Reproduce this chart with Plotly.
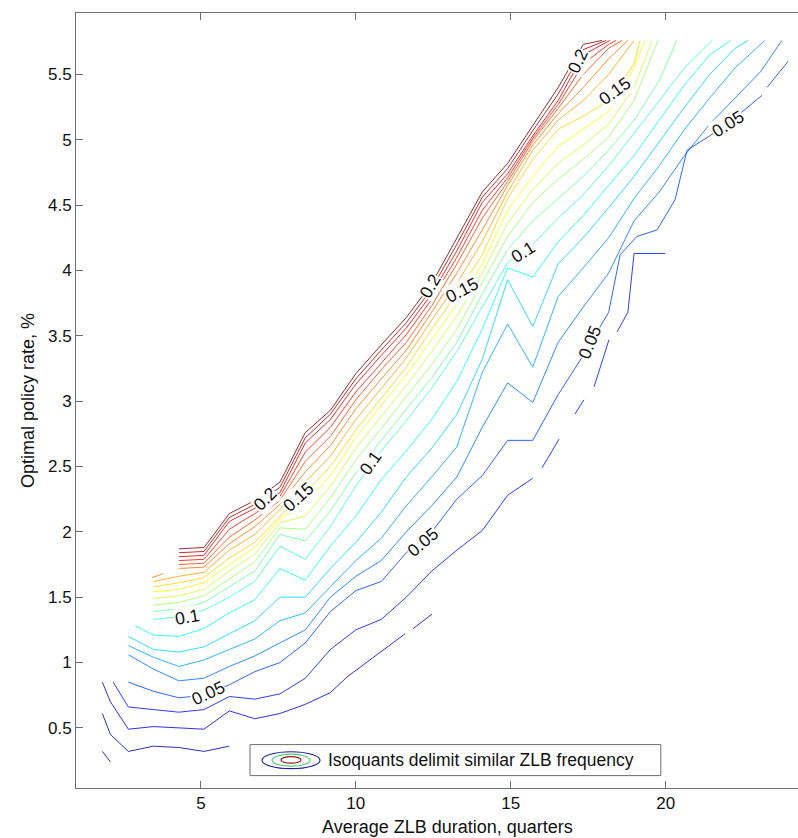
import plotly.graph_objects as go

# grid columns of the underlying data (Average ZLB duration, quarters)
XK = [1.84, 2.66, 3.47, 4.29, 5.10, 5.92, 6.74, 7.55, 8.37, 9.18, 10.00, 10.82, 11.63, 12.45,
      13.26, 14.08, 14.90, 15.71, 16.53, 17.34, 18.16, 18.98, 19.79, 20.61, 21.42, 22.24, 23.06, 23.87]

LEVELS = [0.01, 0.02, 0.03, 0.04, 0.05, 0.06, 0.07, 0.08, 0.09, 0.10, 0.11,
          0.12, 0.13, 0.14, 0.15, 0.16, 0.17, 0.18, 0.19, 0.20, 0.21, 0.22]

# each isoquant: first grid column, policy-rate values on successive columns,
# extra points before/after (None = break in the line)
L01 = dict(k0=0, y=[], head=[(1.82, 0.32), (2.08, 0.24)], tail=[])
L02 = dict(k0=1, y=[0.32, 0.36, 0.35, 0.32, 0.36], head=[(1.82, 0.61), (2.08, 0.45)], tail=[])
L03 = dict(k0=1, y=[0.49, 0.51, 0.50, 0.49, 0.63, 0.57, 0.61, 0.68, 0.77],
           head=[(1.82, 0.85), (2.08, 0.70)],
           tail=[(9.72, 0.89), (11.59, 1.22), None, (11.85, 1.26), (12.46, 1.37)])
L04 = dict(k0=1, y=[0.66, 0.64, 0.62, 0.64, 0.74, 0.72, 0.76, 0.88, 1.10, 1.25, 1.33, 1.50,
                    1.70, 1.86, 2.01, 2.28, 2.41],
           head=[(2.17, 0.85)],
           tail=[None, (16.01, 2.49), (16.56, 2.71), None, (17.07, 2.90), (17.36, 3.01), None,
                 (17.69, 3.11), (18.17, 3.47), None, (18.43, 3.53), (18.78, 3.68),
                 (18.98, 4.13), (19.98, 4.13)])
L05 = dict(k0=1, y=[0.85, 0.78, 0.73, 0.75, 0.83, 0.93, 1.00, 1.15, 1.39, 1.55, 1.62, 1.84, 2.00,
                    2.25, 2.43, 2.70, 2.70, 3.05, 3.35, 3.68],
           head=[],
           tail=[(18.53, 4.12), (19.07, 4.26), (19.72, 4.31), (20.30, 4.54), (20.69, 4.92),
                 (21.42, 5.03), (22.24, 5.17), (23.11, 5.34), None, (23.27, 5.40), (23.95, 5.60)])
L06 = dict(k0=1, y=[1.06, 0.95, 0.86, 0.88, 0.97, 1.05, 1.15, 1.25, 1.50, 1.66, 1.78, 2.00, 2.20,
                    2.42, 2.80, 3.14, 2.99, 3.45, 3.72, 3.98, 4.38, 4.60, 4.88, 5.12, 5.32, 5.52],
           head=[], tail=[(23.75, 5.76)])
L07 = dict(k0=1, y=[1.13, 1.04, 0.97, 1.02, 1.10, 1.18, 1.32, 1.38, 1.58, 1.78, 1.95, 2.20, 2.42,
                    2.65, 3.22, 3.59, 3.26, 3.80, 4.02, 4.25, 4.55, 4.80, 5.08, 5.32, 5.55],
           head=[], tail=[(23.20, 5.76)])
L08 = dict(k0=1, y=[1.20, 1.10, 1.08, 1.12, 1.22, 1.32, 1.50, 1.50, 1.72, 1.92, 2.15, 2.42, 2.64,
                    2.90, 3.32, 3.93, 3.57, 4.05, 4.25, 4.48, 4.72, 4.98, 5.25, 5.50, 5.70],
           head=[], tail=[(22.66, 5.76)])
L09 = dict(k0=2, y=[1.21, 1.20, 1.26, 1.38, 1.48, 1.72, 1.63, 1.89, 2.12, 2.40, 2.62, 2.86,
                    3.15, 3.55, 4.02, 3.95, 4.22, 4.42, 4.65, 4.88, 5.15, 5.42, 5.65],
           head=[(2.88, 1.28)], tail=[(22.10, 5.76)])
L10 = dict(k0=2, y=[1.33, 1.35, 1.40, 1.50, 1.62, 1.89, 1.79, 2.04, 2.35, 2.62, 2.85, 3.10,
                    3.38, 3.72, 4.06, 4.20, 4.40, 4.58, 4.80, 5.05, 5.30, 5.55],
           head=[], tail=[(21.50, 5.76)])
L11 = dict(k0=2, y=[1.39, 1.41, 1.46, 1.58, 1.70, 1.98, 1.93, 2.16, 2.45, 2.70, 2.94, 3.18,
                    3.45, 3.82, 4.16, 4.38, 4.55, 4.72, 4.92, 5.15, 5.45],
           head=[], tail=[(20.36, 5.76)])
L12 = dict(k0=2, y=[1.44, 1.46, 1.51, 1.64, 1.77, 2.03, 2.02, 2.26, 2.55, 2.79, 3.03, 3.28,
                    3.55, 3.90, 4.26, 4.52, 4.70, 4.85, 5.02, 5.30],
           head=[], tail=[(19.75, 5.76)])
L13 = dict(k0=2, y=[1.49, 1.51, 1.56, 1.70, 1.83, 2.07, 2.12, 2.35, 2.64, 2.88, 3.12, 3.38,
                    3.65, 3.98, 4.36, 4.62, 4.82, 4.96, 5.12, 5.40],
           head=[], tail=[(19.56, 5.76)])
L14 = dict(k0=2, y=[1.54, 1.56, 1.61, 1.75, 1.88, 2.10, 2.22, 2.43, 2.72, 2.97, 3.20, 3.47,
                    3.74, 4.05, 4.46, 4.72, 4.95, 5.08, 5.22, 5.55],
           head=[], tail=[(19.33, 5.76)])
L15 = dict(k0=2, y=[1.58, 1.61, 1.65, 1.80, 1.92, 2.12, 2.30, 2.50, 2.78, 3.02, 3.26, 3.55,
                    3.82, 4.12, 4.55, 4.85, 5.08, 5.18, 5.30, 5.58],
           head=[], tail=[(19.17, 5.76)])
L16 = dict(k0=2, y=[1.62, 1.66, 1.69, 1.86, 1.98, 2.17, 2.38, 2.58, 2.86, 3.10, 3.33, 3.62,
                    3.90, 4.22, 4.60, 4.92, 5.15, 5.30, 5.50],
           head=[], tail=[(18.98, 5.76)])
L17 = dict(k0=3, y=[1.72, 1.73, 1.91, 2.04, 2.21, 2.46, 2.66, 2.94, 3.17, 3.39, 3.68, 3.98,
                    4.31, 4.65, 4.96, 5.20, 5.40, 5.62],
           head=[(3.43, 1.65), (3.78, 1.68), None], tail=[(18.78, 5.76)])
L18 = dict(k0=3, y=[1.75, 1.76, 1.96, 2.09, 2.24, 2.54, 2.73, 3.01, 3.24, 3.45, 3.73, 4.05,
                    4.40, 4.68, 4.99, 5.24, 5.50, 5.70],
           head=[], tail=[(18.60, 5.76)])
L19 = dict(k0=3, y=[1.78, 1.79, 2.02, 2.14, 2.27, 2.61, 2.80, 3.07, 3.29, 3.51, 3.78, 4.10,
                    4.46, 4.71, 5.01, 5.27, 5.58, 5.73],
           head=[], tail=[(18.40, 5.76)])
L20 = dict(k0=3, y=[1.81, 1.82, 2.08, 2.18, 2.30, 2.68, 2.86, 3.13, 3.35, 3.56, 3.82, 4.15,
                    4.52, 4.74, 5.03, 5.30, 5.65],
           head=[], tail=[(18.20, 5.76)])
L21 = dict(k0=3, y=[1.84, 1.85, 2.11, 2.21, 2.34, 2.72, 2.90, 3.17, 3.39, 3.60, 3.86, 4.20,
                    4.56, 4.78, 5.07, 5.35, 5.69],
           head=[], tail=[(18.08, 5.76)])
L22 = dict(k0=3, y=[1.87, 1.88, 2.14, 2.24, 2.38, 2.76, 2.93, 3.21, 3.43, 3.64, 3.90, 4.25,
                    4.60, 4.82, 5.11, 5.40, 5.73],
           head=[], tail=[(17.95, 5.76)])

LINES = [L01, L02, L03, L04, L05, L06, L07, L08, L09, L10, L11,
         L12, L13, L14, L15, L16, L17, L18, L19, L20, L21, L22]

# inline contour labels
LABEL_TEXT = ["0.05", "0.1", "0.2", "0.15", "0.1", "0.05", "0.2", "0.15", "0.1", "0.05", "0.2", "0.15", "0.05"]
LABEL_X = [5.24, 4.56, 7.07, 8.14, 10.46, 12.17, 12.40, 13.43, 15.40, 17.56, 17.17, 18.36, 22.00]
LABEL_Y = [0.77, 1.35, 2.25, 2.27, 2.53, 1.92, 3.88, 3.85, 4.14, 3.45, 5.60, 5.37, 5.12]
LABEL_ANGLE = [-25, -10, -45, -42, -55, -40, -60, -28, -32, -68, -65, -36, -32]


def jet(t):
    t = min(max(t, 0.0), 1.0)
    def c(v):
        return int(round(255 * min(max(v, 0.0), 1.0)))
    r = 1.5 - abs(4 * t - 3)
    g = 1.5 - abs(4 * t - 2)
    b = 1.5 - abs(4 * t - 1)
    return f"rgb({c(r)},{c(g)},{c(b)})"


def add_pts(xs, ys, pts):
    for p in pts:
        if p is None:
            xs.append(None)
            ys.append(None)
        else:
            xs.append(p[0])
            ys.append(p[1])


fig = go.Figure()
lo, hi = LEVELS[0], LEVELS[-1]
for lev, spec in zip(LEVELS, LINES):
    xs, ys = [], []
    add_pts(xs, ys, spec["head"])
    for i, yv in enumerate(spec["y"]):
        xs.append(XK[spec["k0"] + i])
        ys.append(yv)
    add_pts(xs, ys, spec["tail"])
    fig.add_trace(go.Scatter(
        x=xs, y=ys, mode="lines", connectgaps=False,
        line=dict(color=jet((lev - lo) / (hi - lo)), width=0.9),
        opacity=0.9, showlegend=False, hoverinfo="skip"))

FONT = "Liberation Sans, Arial, Helvetica, sans-serif"

for t, x, y, a in zip(LABEL_TEXT, LABEL_X, LABEL_Y, LABEL_ANGLE):
    fig.add_annotation(x=x, y=y, xref="x", yref="y", text=t, showarrow=False,
                       textangle=a, font=dict(family=FONT, size=17.5, color="#111"),
                       bgcolor="white", borderpad=0)

# legend box (drawn as in the original: a framed box with a small contour icon)
fig.add_shape(type="rect", xref="paper", yref="paper", x0=0.241, x1=0.810, y0=0.016, y1=0.056,
              line=dict(color="#6e6e6e", width=1), fillcolor="white")
fig.add_shape(type="circle", xref="paper", yref="paper", x0=0.2576, x1=0.3380, y0=0.0249, y1=0.0468,
              line=dict(color="rgb(30,30,160)", width=1.2))
fig.add_shape(type="circle", xref="paper", yref="paper", x0=0.2715, x1=0.3241, y0=0.0281, y1=0.0436,
              line=dict(color="rgb(80,200,120)", width=1.2))
fig.add_shape(type="circle", xref="paper", yref="paper", x0=0.2839, x1=0.3116, y0=0.0320, y1=0.0404,
              line=dict(color="rgb(150,20,20)", width=1.2))
fig.add_annotation(xref="paper", yref="paper", x=0.3463, y=0.0362, xanchor="left", yanchor="middle",
                   text="Isoquants delimit similar ZLB frequency", showarrow=False,
                   font=dict(family=FONT, size=17.5, color="#111"))

# x-axis title: the original axes run on past the right edge of the picture,
# so the title sits centred on the full (cropped) axis
fig.add_annotation(xref="paper", yref="paper", x=0.514, y=-0.050, xanchor="center", yanchor="middle",
                   text="Average ZLB duration, quarters", showarrow=False,
                   font=dict(family=FONT, size=18, color="#111"))

fig.update_layout(
    width=798, height=838,
    margin=dict(l=76, r=0, t=13, b=50),
    paper_bgcolor="white", plot_bgcolor="white",
    font=dict(family=FONT, color="#111"),
    showlegend=False,
)
fig.update_xaxes(
    range=[0.97, 24.27], tickvals=[5, 10, 15, 20], ticks="inside", ticklen=7,
    tickcolor="#6e6e6e", showline=True, linecolor="#6e6e6e", linewidth=1, mirror="ticks",
    showgrid=False, zeroline=False, tickfont=dict(size=17),
    automargin=False,
)
fig.update_yaxes(
    range=[0.04, 5.97], tickvals=[0.5, 1, 1.5, 2, 2.5, 3, 3.5, 4, 4.5, 5, 5.5],
    ticktext=["0.5", "1", "1.5", "2", "2.5", "3", "3.5", "4", "4.5", "5", "5.5"],
    ticks="inside", ticklen=7, tickcolor="#6e6e6e", showline=True, linecolor="#6e6e6e",
    linewidth=1, mirror=False, showgrid=False, zeroline=False, tickfont=dict(size=17),
    title=dict(text="Optimal policy rate, %", font=dict(size=18), standoff=8),
    automargin=False,
)

fig.write_html("out.html")
